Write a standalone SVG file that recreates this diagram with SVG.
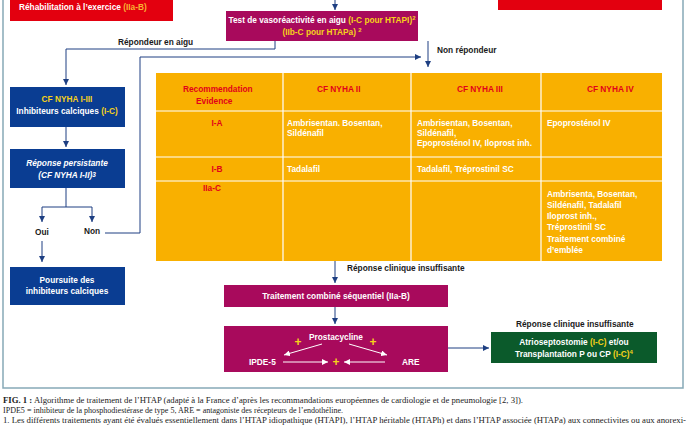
<svg xmlns="http://www.w3.org/2000/svg" width="686" height="430" viewBox="0 0 686 430">
<style>
.t{font-family:"Liberation Sans",Arial,sans-serif;font-weight:bold;font-size:8.3px}
.c{text-anchor:middle}
.w{fill:#ffffff}
.y{fill:#f6d21a}
.o{fill:#f9b233}
.k{fill:#1a1a1a}
.r{fill:#e2001a}
.pl{font-size:12px}
.ln{stroke:#1e3f82;stroke-width:1;fill:none}
.wl{stroke:#ffffff;stroke-width:1;fill:none}
.red{fill:#e3000f}
.mag{fill:#a80a5c}
.blu{fill:#0a3d92}
.cap{font-family:"Liberation Serif","Times New Roman",serif;font-size:8px;fill:#222}
</style>
<defs>
<marker id="ah" markerWidth="6" markerHeight="6" refX="6" refY="3" orient="auto" markerUnits="userSpaceOnUse"><path d="M0,0 L6,3 L0,6 z" fill="#1e3f82"/></marker>
<marker id="aw" markerWidth="6" markerHeight="6" refX="6" refY="3" orient="auto" markerUnits="userSpaceOnUse"><path d="M0,0 L6,3 L0,6 z" fill="#ffffff"/></marker>
</defs>
<rect width="686" height="430" fill="#ffffff"/>
<rect id="frame" x="3" y="-5" width="680" height="393" fill="none" stroke="#86a9b7" stroke-width="1.5"/>

<g id="connectors">
<line class="ln" x1="335" y1="-2" x2="335" y2="10" marker-end="url(#ah)"/>
<path class="ln" d="M275,41 V49 H66 V85" marker-end="url(#ah)"/>
<path class="ln" d="M428,41 V67" marker-end="url(#ah)"/>
<path class="ln" d="M66,127 V147" marker-end="url(#ah)"/>
<path class="ln" d="M66,188 V207 M42,207 H92 M42,207 V222" marker-end="url(#ah)"/>
<path class="ln" d="M92,207 V222" marker-end="url(#ah)"/>
<path class="ln" d="M42,241 V262" marker-end="url(#ah)"/>
<path class="ln" d="M105,233 H140 V57 H421" marker-end="url(#ah)"/>
<path class="ln" d="M335,261 V283" marker-end="url(#ah)"/>
<path class="ln" d="M335,307 V324" marker-end="url(#ah)"/>
<path class="ln" d="M448,348 H489" marker-end="url(#ah)"/>
<text class="t k" x="118" y="45">Répondeur en aigu</text>
<text class="t k" x="437" y="53">Non répondeur</text>
<text class="t k" x="42" y="235" text-anchor="middle">Oui</text>
<text class="t k" x="92" y="234" text-anchor="middle">Non</text>
<text class="t k" x="347" y="271">Réponse clinique insuffisante</text>
<text class="t k" x="516" y="327">Réponse clinique insuffisante</text>
</g>

<g id="n-rehab">
<rect class="red" x="10" y="-5" width="163" height="26"/>
<text class="t w" x="19" y="10">Réhabilitation à l’exercice <tspan class="o">(IIa-B)</tspan></text>
</g>
<g id="n-topright">
<rect class="red" x="498" y="-5" width="164" height="15"/>
</g>

<g id="n-test">
<rect class="mag" x="226" y="11" width="192" height="30"/>
<text class="t w c" x="322" y="23">Test de vasoréactivité en aigu <tspan class="y">(I-C pour HTAPI)</tspan><tspan class="y" font-size="6" dy="-3">2</tspan></text>
<text class="t y c" x="322" y="35">(IIb-C pour HTAPa) <tspan font-size="6" dy="-3">2</tspan></text>
</g>

<g id="n-ccb">
<rect class="blu" x="10" y="87" width="115" height="40"/>
<text class="t y c" x="67" y="102">CF NYHA I-III</text>
<text class="t w c" x="67" y="114">Inhibiteurs calciques <tspan class="y">(I-C)</tspan></text>
</g>
<g id="n-persist">
<rect class="blu" x="10" y="149" width="115" height="39"/>
<text class="t w c" x="67" y="166" font-style="italic">Réponse persistante</text>
<text class="t w c" x="67" y="178" font-style="italic">(CF NYHA I-II)<tspan font-size="6.5" dy="-1">3</tspan></text>
</g>
<g id="n-poursuite">
<rect class="blu" x="10" y="267" width="115" height="38"/>
<text class="t w c" x="67" y="283">Poursuite des</text>
<text class="t w c" x="67" y="294">inhibiteurs calciques</text>
</g>

<g id="n-table">
<rect x="156" y="73" width="506" height="188" fill="#f9b000"/>
<path d="M283,73 V261 M411,73 V261 M541,73 V261 M156,111 H662 M156,157 H662 M156,181 H662" stroke="#ffffff" stroke-width="1.2" fill="none"/>
<text class="t r" x="183" y="92">Recommendation</text>
<text class="t r" x="196" y="104">Evidence</text>
<text class="t r" x="317" y="92">CF NYHA II</text>
<text class="t r" x="457" y="92">CF NYHA III</text>
<text class="t r" x="587" y="92">CF NYHA IV</text>
<text class="t r c" x="217" y="126">I-A</text>
<text class="t r c" x="217" y="172">I-B</text>
<text class="t r c" x="212" y="191">IIa-C</text>
<text class="t w" x="287" y="126">Ambrisentan. Bosentan,</text>
<text class="t w" x="287" y="136">Sildénafil</text>
<text class="t w" x="417" y="126">Ambrisentan, Bosentan,</text>
<text class="t w" x="417" y="136">Sildénafil,</text>
<text class="t w" x="417" y="146">Epoprosténol IV, Iloprost inh.</text>
<text class="t w" x="547" y="126">Epoprosténol IV</text>
<text class="t w" x="287" y="172">Tadalafil</text>
<text class="t w" x="417" y="172">Tadalafil, Tréprostinil SC</text>
<text class="t w" x="547" y="197">Ambrisenta, Bosentan,</text>
<text class="t w" x="547" y="208">Sildénafil, Tadalafil</text>
<text class="t w" x="547" y="219">Iloprost inh.,</text>
<text class="t w" x="547" y="230">Tréprostinil SC</text>
<text class="t w" x="547" y="242">Traitement combiné</text>
<text class="t w" x="547" y="253">d’emblée</text>
</g>

<g id="n-sequentiel">
<rect class="mag" x="224" y="285" width="224" height="22"/>
<text class="t w c" x="336" y="299">Traitement combiné séquentiel (IIa-B)</text>
</g>

<g id="n-combi">
<rect class="mag" x="224" y="326" width="224" height="46"/>
<text class="t w c" x="336" y="340">Prostacycline</text>
<text class="t y c pl" x="298" y="346">+</text>
<text class="t y c pl" x="373" y="346">+</text>
<text class="t y c pl" x="336" y="366">+</text>
<text class="t w" x="249" y="365">IPDE-5</text>
<text class="t w" x="402" y="365">ARE</text>
<line class="wl" x1="322" y1="344" x2="284" y2="355" marker-end="url(#aw)"/>
<line class="wl" x1="349" y1="344" x2="387" y2="355" marker-end="url(#aw)"/>
<line class="wl" x1="283" y1="362" x2="328" y2="362" marker-end="url(#aw)"/>
<line class="wl" x1="385" y1="362" x2="344" y2="362" marker-end="url(#aw)"/>
</g>

<g id="n-atrio">
<rect x="491" y="332" width="166" height="31" fill="#0b5a2b"/>
<text class="t w c" x="574" y="345">Atrioseptostomie <tspan class="y">(I-C)</tspan> et/ou</text>
<text class="t w c" x="574" y="357">Transplantation P ou CP <tspan class="y">(I-C)</tspan><tspan class="y" font-size="6" dy="-3">4</tspan></text>
</g>

<g id="caption">
<text class="cap" x="3" y="403" textLength="520" lengthAdjust="spacingAndGlyphs"><tspan font-weight="bold">FIG. 1 :</tspan> Algorithme de traitement de l’HTAP (adapté à la France d’après les recommandations européennes de cardiologie et de pneumologie [2, 3]).</text>
<text class="cap" x="3" y="413" textLength="340" lengthAdjust="spacingAndGlyphs">IPDE5 = inhibiteur de la phosphodiestérase de type 5, ARE = antagoniste des récepteurs de l’endothéline.</text>
<text class="cap" x="3" y="423" textLength="683" lengthAdjust="spacingAndGlyphs">1. Les différents traitements ayant été évalués essentiellement dans l’HTAP idiopathique (HTAPI), l’HTAP héritable (HTAPh) et dans l’HTAP associée (HTAPa) aux connectivites ou aux anorexi-</text>
</g>
</svg>
